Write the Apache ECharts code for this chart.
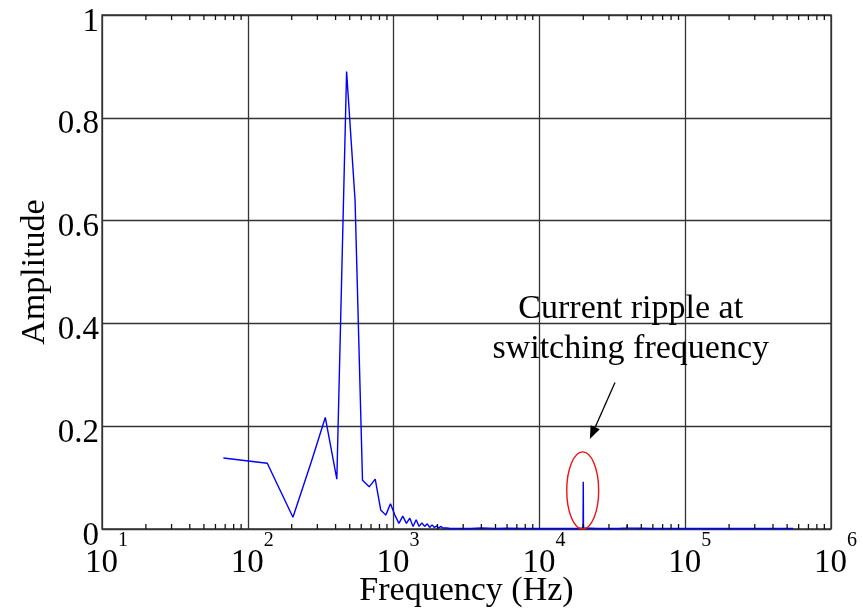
<!DOCTYPE html>
<html><head><meta charset="utf-8">
<script src="https://cdn.jsdelivr.net/npm/echarts@6/dist/echarts.min.js"></script>
<style>html,body{margin:0;padding:0;background:#fff}#c{width:863px;height:612px}</style>
</head><body><div id="c"></div>
<script>
// ---- data ----
const frequencies = [
  68, 136, 204, 272, 340, 408, 476, 544, 612, 680, 748, 816, 884, 952, 1020,
  1088, 1156, 1224, 1292, 1360, 1428, 1496, 1564, 1632, 1700, 1768, 1836, 1904, 1972,
  2040, 2108, 2176, 2244, 2312, 2380, 2448, 2516, 2584, 2652, 2720, 2788, 2856, 2924,
  3400, 4000, 5000, 6000, 8000, 10000, 14000, 18000,
  19856, 19924, 19992, 20060, 20128, 25000, 35000,
  39916, 39984, 40052, 60000, 100000, 200000, 400000, 550000
];
const amplitudes = [
  0.138, 0.128, 0.023, 0.130, 0.217, 0.097, 0.890, 0.640, 0.095, 0.082, 0.097, 0.037, 0.027, 0.049, 0.027,
  0.011, 0.025, 0.011, 0.021, 0.005, 0.018, 0.005, 0.012, 0.005, 0.010, 0.003, 0.008, 0.003, 0.006,
  0.002, 0.005, 0.002, 0.004, 0.002, 0.004, 0.001, 0.003, 0.001, 0.003, 0.001, 0.003, 0.001, 0.002,
  0.001, 0.002, 0.001, 0.0015, 0.001, 0.001, 0.001, 0.001,
  0.002, 0.012, 0.092, 0.009, 0.002, 0.001, 0.001,
  0.002, 0.007, 0.002, 0.001, 0.001, 0.001, 0.001, 0.001
];
const xTickExponents = [1, 2, 3, 4, 5, 6];
const yTickLabels = ['0', '0.2', '0.4', '0.6', '0.8', '1'];
const minorTickMultipliers = [2, 3, 4, 5, 6, 7, 8, 9];
const minorTickDecades = [10, 100, 1000, 10000, 100000];
const annotationLines = ['Current ripple at', 'switching frequency'];
const annotationTextAt = [42300, 0.388];
const ellipseFreqRange = [15400, 25500];
const ellipseAmpRange = [0, 0.15];
const arrowFrom = [33000, 0.285];
const arrowTo = [22200, 0.175];

// ---- chart ----
const FONT = "'Liberation Serif', 'Times New Roman', serif";
const lineData = frequencies.map((f, i) => [f, amplitudes[i]]);
const minorTickValues = [];
minorTickDecades.forEach(d => minorTickMultipliers.forEach(m => minorTickValues.push([d * m, 0])));

const chart = echarts.init(document.getElementById('c'), null, {renderer: 'canvas'});
chart.setOption({
  animation: false,
  backgroundColor: '#fff',
  grid: {left: 102, right: 32, top: 15, bottom: 83, containLabel: false, outerBoundsMode: 'none',
         show: true, borderColor: '#333', borderWidth: 1.3, backgroundColor: 'transparent'},
  xAxis: {
    type: 'log', logBase: 10, min: 10, max: 1000000, splitNumber: 5,
    name: 'Frequency (Hz)', nameLocation: 'middle', nameGap: 45, nameMoveOverlap: false,
    nameTextStyle: {fontFamily: FONT, fontSize: 34, color: '#000'},
    axisLine: {show: false}, axisTick: {show: false},
    splitLine: {show: true, lineStyle: {color: '#333', width: 1.3}},
    axisLabel: {
      show: true, margin: 2, showMinLabel: true, showMaxLabel: true, color: '#000',
      formatter: v => '{b|10}{s|' + xTickExponents[Math.round(Math.log10(v)) - 1] + '}',
      rich: {
        b: {fontFamily: FONT, fontSize: 33, lineHeight: 49, verticalAlign: 'bottom', padding: [0, 0, 0, 9], color: '#000'},
        s: {fontFamily: FONT, fontSize: 20, lineHeight: 21, verticalAlign: 'top', color: '#000'}
      }
    }
  },
  yAxis: {
    type: 'value', min: 0, max: 1, interval: 0.2,
    name: 'Amplitude', nameLocation: 'middle', nameGap: 50, nameMoveOverlap: false,
    nameTextStyle: {fontFamily: FONT, fontSize: 34, color: '#000'},
    axisLine: {show: false}, axisTick: {show: false},
    splitLine: {show: true, lineStyle: {color: '#333', width: 1.3}},
    axisLabel: {
      margin: 3, color: '#000', fontFamily: FONT, fontSize: 33,
      verticalAlign: 'top', lineHeight: 14,
      formatter: (v) => yTickLabels[Math.round(v / 0.2)]
    }
  },
  series: [
    {
      type: 'line', data: lineData, showSymbol: false, symbol: 'none',
      lineStyle: {color: '#0000ff', width: 1.4}, z: 3, clip: false
    },
    {
      type: 'custom', data: minorTickValues, z: 4, clip: false, silent: true,
      renderItem: (params, api) => {
        const v = api.value(0);
        const b = api.coord([v, 0]);
        const t = api.coord([v, 1]);
        return {type: 'group', children: [
          {type: 'line', shape: {x1: b[0], y1: b[1], x2: b[0], y2: b[1] - 5}, style: {stroke: '#111', lineWidth: 1.3}},
          {type: 'line', shape: {x1: t[0], y1: t[1], x2: t[0], y2: t[1] + 5}, style: {stroke: '#111', lineWidth: 1.3}}
        ]};
      }
    },
    {
      type: 'custom', data: [annotationTextAt], z: 5, clip: false, silent: true,
      renderItem: (params, api) => {
        const tp = api.coord([api.value(0), api.value(1)]);
        const e0 = api.coord([ellipseFreqRange[0], ellipseAmpRange[0]]);
        const e1 = api.coord([ellipseFreqRange[1], ellipseAmpRange[1]]);
        const a0 = api.coord(arrowFrom);
        const a1 = api.coord(arrowTo);
        const dx = a1[0] - a0[0], dy = a1[1] - a0[1];
        const len = Math.sqrt(dx * dx + dy * dy);
        const ux = dx / len, uy = dy / len;
        const hl = 13, hw = 5;
        const bx = a1[0] - ux * hl, by = a1[1] - uy * hl;
        return {type: 'group', children: [
          {type: 'ellipse', shape: {cx: (e0[0] + e1[0]) / 2, cy: (e0[1] + e1[1]) / 2, rx: Math.abs(e1[0] - e0[0]) / 2, ry: Math.abs(e1[1] - e0[1]) / 2},
           style: {fill: 'none', stroke: '#f01010', lineWidth: 1.4}},
          {type: 'line', shape: {x1: a0[0], y1: a0[1], x2: bx, y2: by}, style: {stroke: '#000', lineWidth: 1.3}},
          {type: 'polygon', shape: {points: [[a1[0], a1[1]], [bx - uy * hw, by + ux * hw], [bx + uy * hw, by - ux * hw]]}, style: {fill: '#000'}},
          {type: 'text', x: tp[0], y: tp[1], style: {
            text: annotationLines.join('\n'), align: 'center', verticalAlign: 'middle',
            textAlign: 'center', textVerticalAlign: 'middle',
            fontFamily: FONT, fontSize: 34, lineHeight: 40, fill: '#000'}}
        ]};
      }
    }
  ]
});
</script>
</body></html>
